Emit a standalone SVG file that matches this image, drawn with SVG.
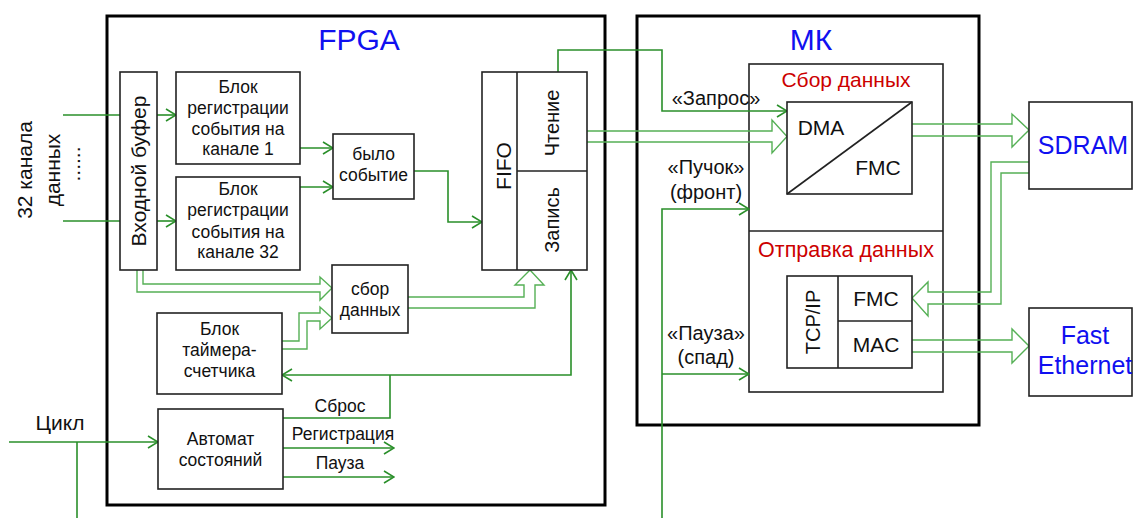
<svg xmlns="http://www.w3.org/2000/svg" width="1134" height="518" viewBox="0 0 1134 518">
<defs>
<marker id="ah" viewBox="0 0 12 14" markerWidth="12" markerHeight="14" refX="11" refY="7" orient="auto" markerUnits="userSpaceOnUse">
<path d="M1,1 L11,7 L1,13" fill="none" stroke="#2a8f2a" stroke-width="1.6"/>
</marker>
<style>
text{font-family:"Liberation Sans",Arial,sans-serif;fill:#111;text-anchor:middle}
.outer{fill:none;stroke:#000;stroke-width:3}
.box{fill:#fff;stroke:#222;stroke-width:1.6}
.frame{fill:none;stroke:#222;stroke-width:1.6}
.ln{fill:none;stroke:#2a8f2a;stroke-width:1.6}
.arr{marker-end:url(#ah)}
.hol{fill:none;stroke:#55b055;stroke-width:1.4}
.t17{font-size:17.5px}
.t20{font-size:20px}
.t21{font-size:21px}
.blue{fill:#1010f0}
.red{fill:#cc0000}
</style>
</defs>

<g id="fpga">
<rect class="outer" x="107" y="16" width="498" height="489"/>
<text class="blue" x="359" y="50" style="font-size:30px">FPGA</text>
</g>
<g id="mk">
<rect class="outer" x="637" y="16" width="342" height="409"/>
<text class="blue" x="811" y="50" style="font-size:30px">МК</text>
</g>

<g id="mk-inner">
<rect class="frame" x="749" y="64" width="194" height="328"/>
<line x1="749" y1="231" x2="943" y2="231" stroke="#222" stroke-width="1.6"/>
<text class="red" x="846" y="87" style="font-size:21px">Сбор данных</text>
<text class="red" x="846" y="257" style="font-size:21.5px">Отправка данных</text>
</g>

<g id="connectors">
<path class="ln" d="M63,115 H120"/>
<path class="ln" d="M63,221 H120"/>
<path class="ln arr" d="M157,115 H176"/>
<path class="ln arr" d="M157,221 H176"/>
<path class="ln arr" d="M300,148 H333"/>
<path class="ln arr" d="M300,187 H333"/>
<path class="ln arr" d="M414,171 H448 V222 H482"/>
<path class="ln arr" d="M558,72 V50 H662 V111 H787"/>
<path class="ln arr" d="M662,518 V209 H749"/>
<path class="ln arr" d="M662,374 H749"/>
<path class="ln" d="M283,418 H390 V375"/>
<path class="ln arr" d="M390,375 H571 V270"/>
<path class="ln arr" d="M390,375 H282"/>
<path class="ln arr" d="M9,442 H158"/>
<path class="ln" d="M77,442 V518"/>
<path class="ln arr" d="M283,448 H394"/>
<path class="ln arr" d="M283,477 H394"/>
<path class="hol" d="M143,270 V284 H320 V277 L332,288 L320,300 V292 H137 V270"/>
<path class="hol" d="M282,341 H299 V313 H320 V307 L332,318 L320,329 V321 H307 V349 H282"/>
<path class="hol" d="M408,297 H524 V285 H515 L530,270 L544,285 H535 V308 H408"/>
<path class="hol" d="M587,131 H772 V120 L787,136.5 L772,153 V142 H587"/>
<path class="hol" d="M912,124 H1012 V114 L1029,130 L1012,147 V136 H912"/>
<path class="hol" d="M1029,162 H991 V292 H928 V282 L912,298 L928,316 V304 H1001 V173 H1029"/>
<path class="hol" d="M912,340 H1012 V329 L1029,346 L1012,363 V352 H912"/>
</g>

<g id="inputs-label">
<text class="t21" transform="translate(32,170) rotate(-90)">32 канала</text>
<text class="t21" transform="translate(60,170) rotate(-90)">данных</text>
<text class="t21" transform="translate(80,164) rotate(-90)">......</text>
</g>

<g id="input-buffer">
<rect class="box" x="120" y="72" width="37" height="198"/>
<text class="t21" transform="translate(146,171) rotate(-90)">Входной буфер</text>
</g>

<g id="reg1">
<rect class="box" x="176" y="72" width="124" height="92"/>
<text class="t17" x="238" y="93">Блок</text>
<text class="t17" x="238" y="114">регистрации</text>
<text class="t17" x="238" y="135">события на</text>
<text class="t17" x="238" y="155">канале 1</text>
</g>

<g id="reg32">
<rect class="box" x="176" y="177" width="124" height="93"/>
<text class="t17" x="238" y="195">Блок</text>
<text class="t17" x="238" y="216">регистрации</text>
<text class="t17" x="238" y="238">события на</text>
<text class="t17" x="238" y="258">канале 32</text>
</g>

<g id="event">
<rect class="box" x="333" y="134" width="81" height="65"/>
<text class="t17" x="373.5" y="160">было</text>
<text class="t17" x="373.5" y="181">событие</text>
</g>

<g id="fifo">
<rect class="box" x="482" y="72" width="105" height="198"/>
<line x1="517" y1="72" x2="517" y2="270" stroke="#222" stroke-width="1.6"/>
<line x1="517" y1="171" x2="587" y2="171" stroke="#222" stroke-width="1.6"/>
<text class="t21" transform="translate(511,166) rotate(-90)">FIFO</text>
<text class="t20" transform="translate(559,123) rotate(-90)">Чтение</text>
<text class="t20" transform="translate(559,220) rotate(-90)">Запись</text>
</g>

<g id="collect">
<rect class="box" x="332" y="265" width="76" height="68"/>
<text class="t17" x="370" y="295">сбор</text>
<text class="t17" x="370" y="316">данных</text>
</g>

<g id="timer">
<rect class="box" x="157" y="313" width="125" height="81"/>
<text class="t17" x="219.5" y="335">Блок</text>
<text class="t17" x="219.5" y="356">таймера-</text>
<text class="t17" x="219.5" y="377">счетчика</text>
</g>

<g id="fsm">
<rect class="box" x="158" y="409" width="125" height="80"/>
<text class="t17" x="220.5" y="445">Автомат</text>
<text class="t17" x="220.5" y="466">состояний</text>
</g>

<g id="labels">
<text class="t21" x="60" y="430">Цикл</text>
<text class="t17" x="340" y="412">Сброс</text>
<text class="t17" x="343" y="440">Регистрация</text>
<text class="t17" x="340" y="469">Пауза</text>
<text class="t20" x="716" y="105">«Запрос»</text>
<text class="t20" x="706" y="174">«Пучок»</text>
<text class="t20" x="706" y="199">(фронт)</text>
<text class="t20" x="706" y="340">«Пауза»</text>
<text class="t20" x="706" y="364">(спад)</text>
</g>

<g id="dma">
<rect class="box" x="787" y="102" width="125" height="92"/>
<line x1="787" y1="194" x2="912" y2="102" stroke="#222" stroke-width="1.6"/>
<text class="t21" x="821" y="135">DMA</text>
<text class="t21" x="878" y="175">FMC</text>
</g>

<g id="tcpip">
<rect class="box" x="787" y="276" width="125" height="92"/>
<line x1="838" y1="276" x2="838" y2="368" stroke="#222" stroke-width="1.6"/>
<line x1="838" y1="321" x2="912" y2="321" stroke="#222" stroke-width="1.6"/>
<text class="t20" transform="translate(820,322) rotate(-90)">TCP/IP</text>
<text class="t21" x="876" y="306">FMC</text>
<text class="t21" x="876" y="352">MAC</text>
</g>

<g id="sdram">
<rect class="box" x="1029" y="102" width="103" height="87"/>
<text class="blue" x="1083" y="154" style="font-size:25px">SDRAM</text>
</g>

<g id="ethernet">
<rect class="box" x="1029" y="308" width="103" height="88"/>
<text class="blue" x="1085" y="344" style="font-size:25px">Fast</text>
<text class="blue" x="1085" y="374" style="font-size:25px">Ethernet</text>
</g>
</svg>
